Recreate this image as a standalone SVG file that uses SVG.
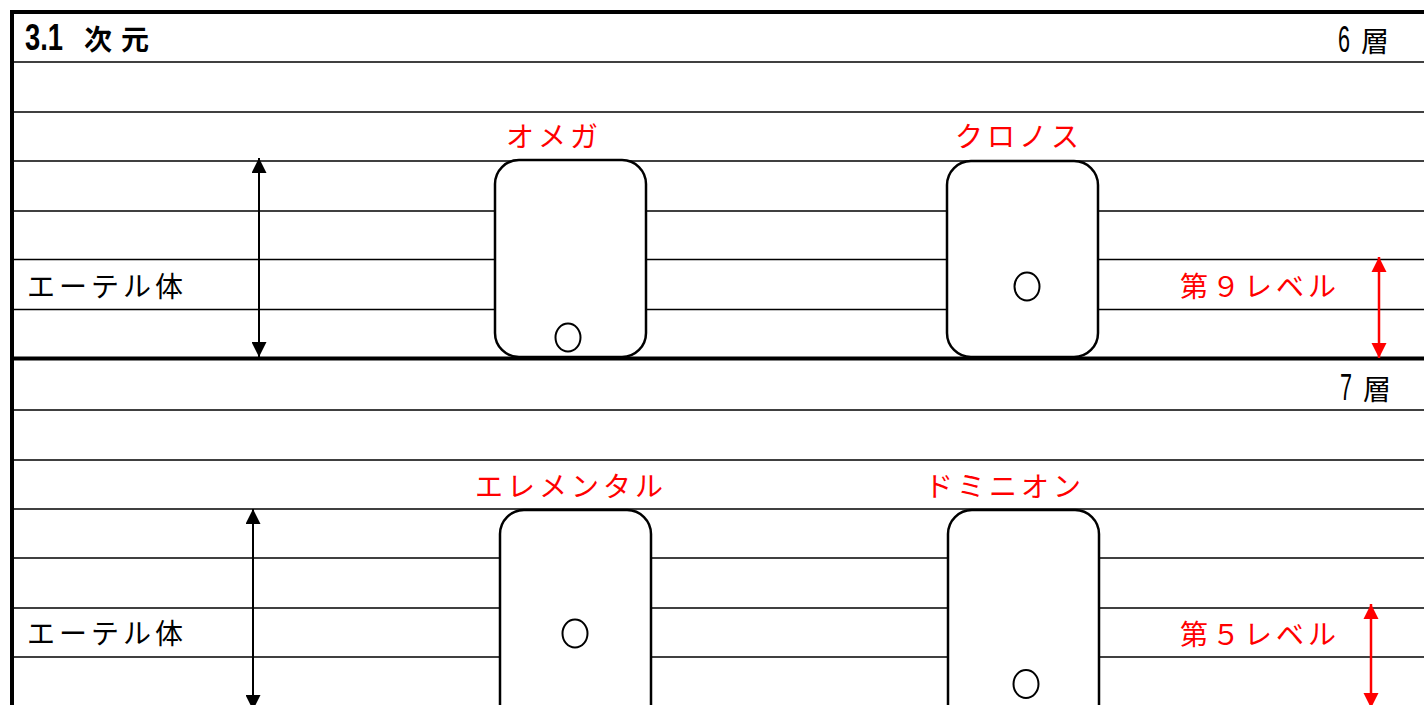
<svg xmlns="http://www.w3.org/2000/svg" width="1424" height="705" viewBox="0 0 1424 705">
<style>
.bg{fill:#fff}
.thin{stroke:#000;stroke-width:1.4;fill:none}
.thick{stroke:#000;stroke-width:4;fill:none}
.box{fill:#fff;stroke:#000;stroke-width:2.5}
.dot{fill:#fff;stroke:#000;stroke-width:2}
.t{font-family:"Noto Sans CJK JP","Noto Sans",sans-serif;font-size:28px;letter-spacing:4px}
.blk{fill:#000}
.red{fill:#ff0000}
.hdr{font-family:"Noto Sans CJK JP","Liberation Sans",sans-serif;font-size:28px;font-weight:bold;fill:#000}
.lay{font-family:"Noto Sans CJK JP","Liberation Sans",sans-serif;font-size:28px;fill:#000}
.num{font-family:"Liberation Sans",sans-serif;font-size:36px}
.arB{stroke:#000;stroke-width:2}
.arR{stroke:#ff0000;stroke-width:2.5}
</style>
<defs>
<marker id="hB" viewBox="0 0 10 10" refX="10" refY="5" markerUnits="userSpaceOnUse" markerWidth="15" markerHeight="15" orient="auto-start-reverse"><path d="M0,0 L10,5 L0,10 z" fill="#000"/></marker>
<marker id="hR" viewBox="0 0 10 10" refX="10" refY="5" markerUnits="userSpaceOnUse" markerWidth="15" markerHeight="16" orient="auto-start-reverse"><path d="M0,0 L10,5 L0,10 z" fill="#ff0000"/></marker>
</defs>
<rect class="bg" x="0" y="0" width="1424" height="705"/>
<g id="grid">
<line class="thin" x1="12" y1="62" x2="1424" y2="62"/>
<line class="thin" x1="12" y1="112" x2="1424" y2="112"/>
<line class="thin" x1="12" y1="161" x2="1424" y2="161"/>
<line class="thin" x1="12" y1="211" x2="1424" y2="211"/>
<line class="thin" x1="12" y1="259.5" x2="1424" y2="259.5"/>
<line class="thin" x1="12" y1="309.5" x2="1424" y2="309.5"/>
<line class="thin" x1="12" y1="410" x2="1424" y2="410"/>
<line class="thin" x1="12" y1="460" x2="1424" y2="460"/>
<line class="thin" x1="12" y1="509" x2="1424" y2="509"/>
<line class="thin" x1="12" y1="558" x2="1424" y2="558"/>
<line class="thin" x1="12" y1="608" x2="1424" y2="608"/>
<line class="thin" x1="12" y1="657" x2="1424" y2="657"/>
<line class="thick" x1="10" y1="12" x2="1424" y2="12"/>
<line class="thick" x1="10" y1="358.5" x2="1424" y2="358.5"/>
<line class="thick" x1="12" y1="10" x2="12" y2="705"/>
</g>
<g id="headers">
<text class="hdr" x="25" y="50"><tspan class="num" textLength="38" lengthAdjust="spacingAndGlyphs">3.1</tspan> <tspan x="84" letter-spacing="9">次元</tspan></text>
<text class="lay" x="1338" y="52"><tspan class="num" textLength="12" lengthAdjust="spacingAndGlyphs">6</tspan><tspan x="1361">層</tspan></text>
<text class="lay" x="1340" y="400"><tspan class="num" textLength="12" lengthAdjust="spacingAndGlyphs">7</tspan><tspan x="1363">層</tspan></text>
</g>
<g id="node-omega">
<rect class="box" x="495" y="160" width="151" height="197" rx="24"/>
<ellipse class="dot" cx="568" cy="337.5" rx="12.5" ry="14"/>
<text class="t red" x="506" y="147">オメガ</text>
</g>
<g id="node-kronos">
<rect class="box" x="947" y="161" width="151" height="196" rx="24"/>
<ellipse class="dot" cx="1027" cy="286.5" rx="12.5" ry="14"/>
<text class="t red" x="955" y="147">クロノス</text>
</g>
<g id="node-elemental">
<rect class="box" x="500" y="510" width="151" height="225" rx="24"/>
<ellipse class="dot" cx="575" cy="633.5" rx="12.5" ry="14"/>
<text class="t red" x="475" y="497">エレメンタル</text>
</g>
<g id="node-dominion">
<rect class="box" x="948" y="510" width="151" height="225" rx="24"/>
<ellipse class="dot" cx="1026" cy="684" rx="12.5" ry="14"/>
<text class="t red" x="925" y="497">ドミニオン</text>
</g>
<g id="labels">
<text class="t blk" x="27" y="297">エーテル体</text>
<text class="t blk" x="27" y="644">エーテル体</text>
<text class="t red" x="1180" y="297">第９レベル</text>
<text class="t red" x="1180" y="645">第５レベル</text>
</g>
<g id="connectors">
<line class="arB" x1="259" y1="158" x2="259" y2="357" marker-start="url(#hB)" marker-end="url(#hB)"/>
<line class="arB" x1="253" y1="509" x2="253" y2="710" marker-start="url(#hB)" marker-end="url(#hB)"/>
<line class="arR" x1="1379" y1="257" x2="1379" y2="358" marker-start="url(#hR)" marker-end="url(#hR)"/>
<line class="arR" x1="1371" y1="604" x2="1371" y2="708" marker-start="url(#hR)" marker-end="url(#hR)"/>
</g>
</svg>
